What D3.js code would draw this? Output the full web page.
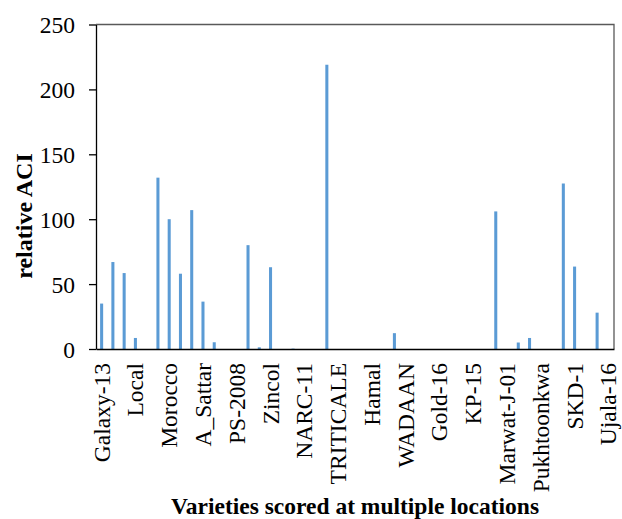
<!DOCTYPE html>
<html>
<head>
<meta charset="utf-8">
<script src="https://cdn.jsdelivr.net/npm/d3@7"></script>
<style>
  html, body { margin: 0; padding: 0; background: #fff; }
  svg { display: block; }
  svg text { font-family: "Liberation Serif", "Times New Roman", serif; fill: #000; }
</style>
</head>
<body>
<svg id="chart" width="622" height="519"></svg>
<script>
// Labeled varieties (every third category carries a label)
const labels = ["Galaxy-13", "Local", "Morocco", "A_Sattar", "PS-2008", "Zincol", "NARC-11",
  "TRITICALE", "Hamal", "WADAAN", "Gold-16", "KP-15", "Marwat-J-01", "Pukhtoonkwa", "SKD-1", "Ujala-16"];
const labelEvery = 3;
// relative ACI per category (46 categories)
const values = [35, 67, 58.5, 8.5, 0, 132, 100, 58, 107, 36.5,
  5.2, 0, 0, 80, 1.3, 63, 0, 0.3, 0, 0,
  219, 0, 0, 0, 0, 0, 12.2, 0, 0, 0,
  0, 0, 0, 0, 0, 106, 0, 5, 8.5, 0,
  0, 127.5, 63.5, 0, 28, 0];
const yTicks = [0, 50, 100, 150, 200, 250];
const yTitle = "relative ACI";
const xTitle = "Varieties scored at multiple locations";

const FONT = "Liberation Serif, Times New Roman, serif";
const svg = d3.select("#chart");
const m = { left: 96, right: 614, top: 24.5, bottom: 349 };

const x = d3.scaleBand()
  .domain(d3.range(values.length))
  .range([m.left, m.right])
  .paddingInner(0.73)
  .paddingOuter(0.365);

const y = d3.scaleLinear().domain([0, 250]).range([m.bottom, m.top]);

// plot-area frame (top and right)
svg.append("path")
  .attr("d", `M${m.left},${m.top}H${m.right}V${m.bottom}`)
  .attr("fill", "none")
  .attr("stroke", "#595959")
  .attr("stroke-width", 1.3);

// bars
svg.append("g").selectAll("rect")
  .data(values)
  .join("rect")
  .attr("x", (d, i) => x(i))
  .attr("width", x.bandwidth())
  .attr("y", d => y(d))
  .attr("height", d => y(0) - y(d))
  .attr("fill", "#5B9BD5");

// y axis
const yAxis = svg.append("g")
  .attr("transform", `translate(${m.left},0)`)
  .call(d3.axisLeft(y).tickValues(yTicks).tickSize(7).tickPadding(14).tickSizeOuter(0))
  .attr("font-family", FONT)
  .attr("font-size", 23.5);
yAxis.select(".domain").attr("stroke", "#000").attr("stroke-width", 1.3);
yAxis.selectAll(".tick line").attr("stroke", "#000").attr("stroke-width", 1.3);
yAxis.selectAll(".tick text")
  .attr("font-family", FONT)
  .attr("font-size", 23.5)
  .attr("fill", "#000")
  .attr("dy", "0.36em");

// x axis
const xAxis = svg.append("g")
  .attr("transform", `translate(0,${m.bottom})`)
  .call(d3.axisBottom(x)
    .tickValues(d3.range(0, values.length, labelEvery))
    .tickFormat(i => labels[i / labelEvery])
    .tickSize(0).tickSizeOuter(0).tickPadding(0))
  .attr("font-family", FONT)
  .attr("font-size", 23.5);
xAxis.select(".domain").attr("stroke", "#000").attr("stroke-width", 1.3);
xAxis.selectAll(".tick text")
  .attr("font-family", FONT)
  .attr("font-size", 23.5)
  .attr("fill", "#000")
  .attr("text-anchor", "end")
  .attr("transform", "rotate(-90)")
  .attr("x", -14)
  .attr("y", 0)
  .attr("dy", "0.34em");

// axis titles
svg.append("text")
  .attr("transform", `translate(32,216) rotate(-90)`)
  .attr("text-anchor", "middle")
  .attr("font-family", FONT)
  .attr("font-size", 24)
  .attr("font-weight", "bold")
  .text(yTitle);

svg.append("text")
  .attr("x", (m.left + m.right) / 2)
  .attr("y", 513.5)
  .attr("text-anchor", "middle")
  .attr("font-family", FONT)
  .attr("font-size", 23.5)
  .attr("font-weight", "bold")
  .text(xTitle);
</script>
</body>
</html>
